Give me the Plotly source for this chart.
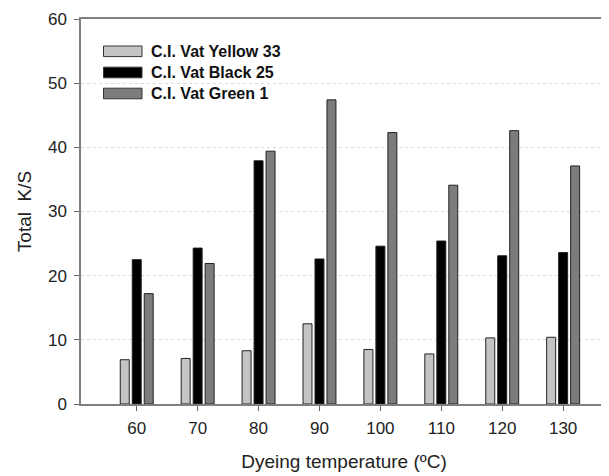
import plotly.graph_objects as go

temperatures = [60, 70, 80, 90, 100, 110, 120, 130]
series_names = ["C.I. Vat Yellow 33", "C.I. Vat Black 25", "C.I. Vat Green 1"]
yellow_33 = [6.9, 7.1, 8.3, 12.5, 8.5, 7.8, 10.3, 10.4]
black_25 = [22.5, 24.3, 37.9, 22.6, 24.6, 25.4, 23.1, 23.6]
green_1 = [17.2, 21.9, 39.4, 47.4, 42.3, 34.1, 42.6, 37.1]
y_ticks = [0, 10, 20, 30, 40, 50, 60]

colors = ["#c4c4c4", "#000000", "#7c7c7c"]
# page has an 8px body margin, so the figure is offset by 8px
OFF = 8
W, H = 609 - OFF, 476 - OFF
ML, MR, MT, MB = 81 - OFF, 2, 19 - OFF, 72
FONT = "Liberation Sans, Arial, sans-serif"

fig = go.Figure()
for name, vals, col in zip(series_names, [yellow_33, black_25, green_1], colors):
    fig.add_trace(go.Bar(
        x=temperatures, y=vals, name=name,
        marker=dict(color=col, line=dict(color="#222222", width=1)),
        showlegend=False,
    ))

pw = W - ML - MR
ph = H - MT - MB

def px_x(p):
    return (p - OFF - ML) / pw

def px_y(p):
    return (H - MB - (p - OFF)) / ph

shapes = []
annotations = []
row_centers = [51.3, 72.5, 93.5]
for name, col, yc in zip(series_names, colors, row_centers):
    shapes.append(dict(type="rect", xref="paper", yref="paper",
                       x0=px_x(103.5), x1=px_x(142), y0=px_y(yc + 5.3), y1=px_y(yc - 5.3),
                       fillcolor=col, line=dict(color="#333333", width=1)))
    annotations.append(dict(xref="paper", yref="paper", x=px_x(149), y=px_y(yc),
                            text=name, showarrow=False, xanchor="left", yanchor="middle",
                            font=dict(family=FONT, size=16, color="#111111", weight="bold")))

fig.update_layout(
    width=W, height=H,
    margin=dict(l=ML, r=MR, t=MT, b=MB),
    paper_bgcolor="white", plot_bgcolor="white",
    barmode="group", bargap=0.41, bargroupgap=0.25,
    font=dict(family=FONT, size=17, color="#222222"),
    shapes=shapes, annotations=annotations,
    xaxis=dict(
        range=[50.85, 137.2], tickmode="array", tickvals=temperatures,
        ticktext=[str(t) for t in temperatures],
        ticks="outside", ticklen=5, tickcolor="#666666", tickwidth=1.2,
        ticklabelstandoff=3,
        showline=True, linecolor="#808080", linewidth=1.5, mirror=True,
        showgrid=False, zeroline=False,
        title=dict(text="Dyeing temperature (ºC)", font=dict(size=19), standoff=18),
        tickfont=dict(size=17),
    ),
    yaxis=dict(
        range=[0, 60], tickmode="array", tickvals=y_ticks,
        ticks="outside", ticklen=5, tickcolor="#666666", tickwidth=1.2,
        ticklabelstandoff=4,
        showline=True, linecolor="#808080", linewidth=1.5,
        showgrid=True, gridcolor="#dcdcdc", griddash="dot", gridwidth=1,
        zeroline=False,
        title=dict(text="Total  K/S", font=dict(size=19), standoff=11),
        tickfont=dict(size=17),
    ),
)

fig.write_html("out.html")
